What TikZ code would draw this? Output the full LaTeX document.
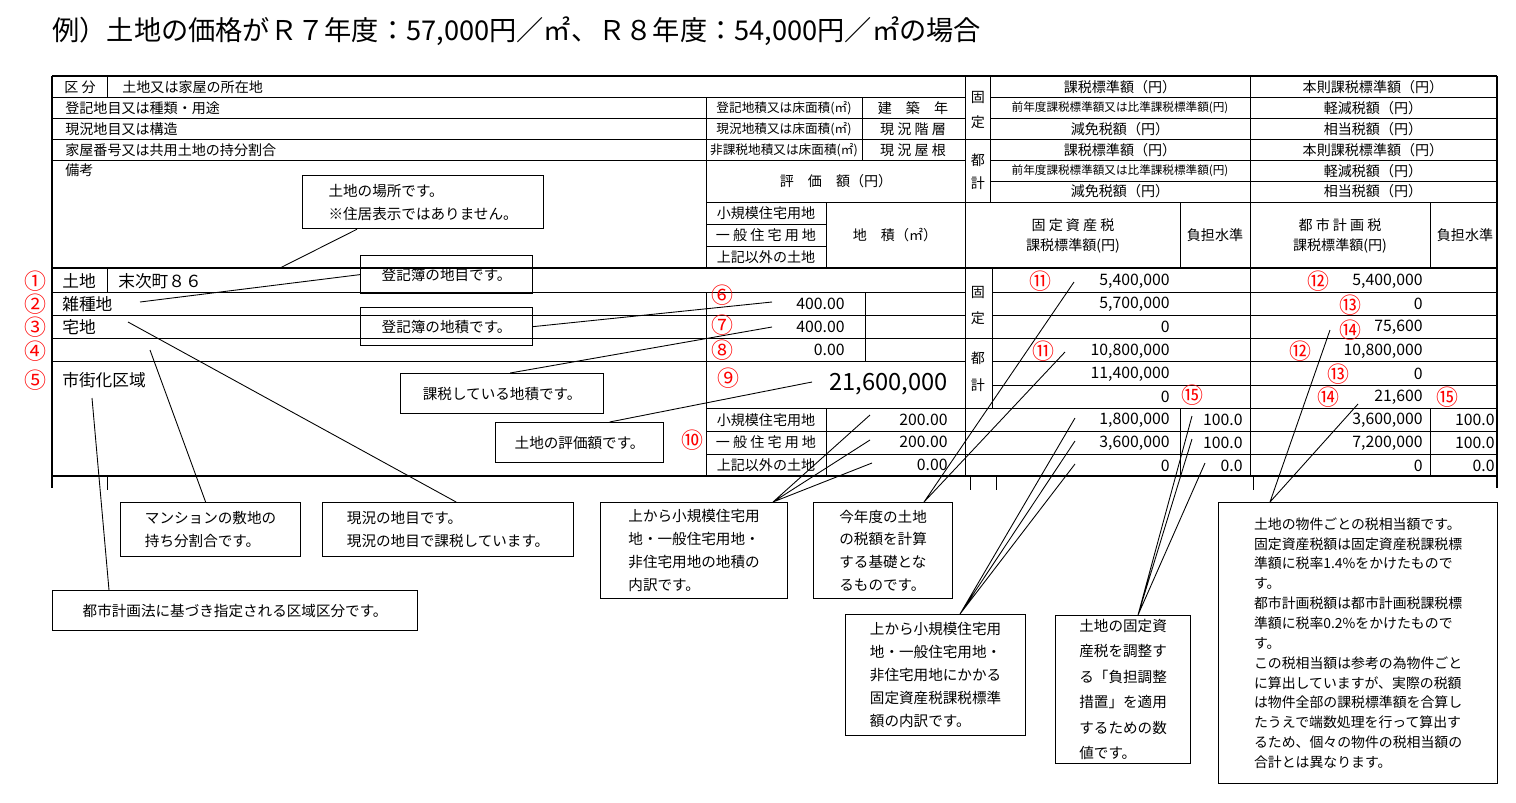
\documentclass[tikz,border=0pt]{standalone}
\usepackage{fontspec}
\setmainfont{Noto Sans CJK JP}
\usetikzlibrary{calc}
\begin{document}
\begin{tikzpicture}[x=0.02cm,y=-0.02cm,
  t/.style={inner sep=0,anchor=west,font=\fontsize{8}{9}\selectfont},
  tc/.style={t,anchor=center},
  tr/.style={t,anchor=east},
  sm/.style={tc,font=\fontsize{6.6}{7}\selectfont},
  val/.style={tr,font=\fontsize{9}{10}\selectfont},
  num/.style={tc,text=red,font=\fontsize{12.5}{13}\selectfont},
  cbox/.style={draw,line width=0.7pt,align=left,anchor=north west,inner sep=2pt,font=\fontsize{8.3}{13}\selectfont},
  thin/.style={line width=0.45pt},
  thickl/.style={line width=1.3pt},
  lead/.style={line width=0.5pt}]
\useasboundingbox (0,0) rectangle (1516,802);
% title
\node[t,anchor=west,font=\fontsize{15.5}{17}\selectfont] (title) at (52,31) {例）土地の価格がＲ７年度：57,000円／㎡、Ｒ８年度：54,000円／㎡の場合};
% ---- table lines
\draw[thickl] (52,76) -- (1497,76);
\draw[thickl] (52,268) -- (1497,268);
\draw[thickl] (52,476) -- (1497,476);
\draw[thickl] (52,76) -- (52,488);
\draw[thickl] (1497,76) -- (1497,488);
\foreach \y in {97,118,139,160} \draw[thin] (52,\y) -- (965,\y);
\foreach \y in {97,118,160,181} \draw[thin] (990,\y) -- (1497,\y);
\draw[thin] (965,139) -- (1497,139);
\draw[thin] (706,202) -- (1497,202);
\draw[thin] (107,76) -- (107,97);
\draw[thin] (706,97) -- (706,268);
\draw[thin] (862,97) -- (862,160);
\draw[thin] (965,76) -- (965,476);
\draw[thin] (990,76) -- (990,202);
\draw[thin] (1250,76) -- (1250,476);
\draw[thin] (1180,202) -- (1180,268) (1430,202) -- (1430,268);
\draw[thin] (826,202) -- (826,268) (706,224) -- (826,224) (706,246) -- (826,246);
% data region
\draw[thin] (107,268) -- (107,292);
\foreach \y in {292,315,338,361} \draw[thin] (52,\y) -- (965,\y);
\foreach \y in {292,315,361,385} \draw[thin] (992,\y) -- (1497,\y);
\draw[thin] (965,338) -- (1497,338);
\draw[thin] (706,408) -- (1497,408);
\foreach \y in {431,454} \draw[thin] (706,\y) -- (1497,\y);
\draw[thin] (706,292) -- (706,476) (865,292) -- (865,361) (826,408) -- (826,476);
\draw[thin] (992,268) -- (992,408);
\draw[thin] (1180,408) -- (1180,476) (1430,408) -- (1430,476);
\foreach \x in {107,970,996,1253} \draw[thin] (\x,476) -- (\x,490);
% ---- header texts
\node[tc] (h1) at (80,87) {区 分};
\node[t] (h2) at (122,87) {土地又は家屋の所在地};
\node[t] (h3) at (65,108) {登記地目又は種類・用途};
\node[t] (h4) at (65,129) {現況地目又は構造};
\node[t] (h5) at (65,150) {家屋番号又は共用土地の持分割合};
\node[t] (h6) at (65,170) {備考};
\node[sm,font=\fontsize{7.2}{8}\selectfont] (h7) at (784,108) {登記地積又は床面積(㎡)};
\node[sm,font=\fontsize{7.2}{8}\selectfont] (h8) at (784,129) {現況地積又は床面積(㎡)};
\node[sm,font=\fontsize{7.2}{8}\selectfont] (h9) at (784,150) {非課税地積又は床面積(㎡)};
\node[tc] (h10) at (913,108) {建\quad 築\quad 年};
\node[tc] (h11) at (913,129) {現 況 階 層};
\node[tc] (h12) at (913,150) {現 況 屋 根};
\node[tc] (h13) at (836,181) {評\quad 価\quad 額（円）};
\node[tc] (h14) at (766,213) {小規模住宅用地};
\node[tc] (h15) at (766,235) {一 般 住 宅 用 地};
\node[tc] (h16) at (766,257) {上記以外の土地};
\node[tc] (h17) at (895,235) {地\quad 積（㎡）};
\node[tc] (k1) at (978,97) {固};
\node[tc] (k2) at (978,122) {定};
\node[tc] (k3) at (978,160) {都};
\node[tc] (k4) at (978,183) {計};
\foreach \y/\n in {87/a,150/b} {
  \node[tc] (m1\n) at (1120,\y) {課税標準額（円）};
  \node[tc] (r1\n) at (1373,\y) {本則課税標準額（円）};}
\foreach \y/\n in {108/a,171/b} {
  \node[sm] (m2\n) at (1120,\y) {前年度課税標準額又は比準課税標準額(円)};
  \node[tc] (r2\n) at (1373,\y) {軽減税額（円）};}
\foreach \y/\n in {129/a,191/b} {
  \node[tc] (m3\n) at (1120,\y) {減免税額（円）};
  \node[tc] (r3\n) at (1373,\y) {相当税額（円）};}
\node[tc] (h18) at (1073,225) {固 定 資 産 税};
\node[tc] (h19) at (1073,246) {課税標準額(円)};
\node[tc] (h20) at (1215,235) {負担水準};
\node[tc] (h21) at (1340,225) {都 市 計 画 税};
\node[tc] (h22) at (1340,246) {課税標準額(円)};
\node[tc] (h23) at (1465,235) {負担水準};
% ---- data
\node[t,font=\fontsize{9.5}{10}\selectfont] (d1) at (62,281) {土地};
\node[t,font=\fontsize{9.5}{10}\selectfont] (d2) at (118,281) {末次町８６};
\node[t,font=\fontsize{9.5}{10}\selectfont] (d3) at (62,304) {雑種地};
\node[t,font=\fontsize{9.5}{10}\selectfont] (d4) at (62,327) {宅地};
\node[t,font=\fontsize{9.5}{10}\selectfont] (d5) at (62,380) {市街化区域};
\node[tc] (k5) at (978,292) {固};
\node[tc] (k6) at (978,318) {定};
\node[tc] (k7) at (978,358) {都};
\node[tc] (k8) at (978,385) {計};
\node[val] (v6) at (845,304) {400.00};
\node[val] (v7) at (845,327) {400.00};
\node[val] (v8) at (845,350) {0.00};
\node[val,font=\fontsize{13.5}{14}\selectfont] (v9) at (948,384) {21,600,000};
\node[tc] (s1) at (766,420) {小規模住宅用地};
\node[tc] (s2) at (766,442) {一 般 住 宅 用 地};
\node[tc] (s3) at (766,465) {上記以外の土地};
\node[val] (va) at (948,420) {200.00};
\node[val] (vb) at (948,442) {200.00};
\node[val] (vc) at (948,465) {0.00};
\foreach \y/\v [count=\i] in {281/{5,400,000},304/{5,700,000},327/0,351/{10,800,000},374/{11,400,000},397/0,420/{1,800,000},443/{3,600,000},466/0}
  \node[val] (f\i) at (1170,\y) {\v};
\foreach \y/\v [count=\i] in {281/{5,400,000},304/0,327/{75,600},351/{10,800,000},374/0,397/{21,600},420/{3,600,000},443/{7,200,000},466/0}
  \node[val] (c\i) at (1423,\y) {\v};
\node[val] (p1) at (1243,420) {100.0};
\node[val] (p2) at (1243,443) {100.0};
\node[val] (p3) at (1243,466) {0.0};
\node[val] (q1) at (1495,420) {100.0};
\node[val] (q2) at (1495,443) {100.0};
\node[val] (q3) at (1495,466) {0.0};
% ---- red numbers
\node[num] (n1) at (35,281) {①};
\node[num] (n2) at (35,304) {②};
\node[num] (n3) at (35,327) {③};
\node[num] (n4) at (35,351) {④};
\node[num] (n5) at (35,380) {⑤};
\node[num] (n6) at (722,295) {⑥};
\node[num] (n7) at (722,325) {⑦};
\node[num] (n8) at (722,350) {⑧};
\node[num] (n9) at (728,378) {⑨};
\node[num] (n10) at (692,440) {⑩};
\node[num] (n11a) at (1040,281) {⑪};
\node[num] (n11b) at (1043,351) {⑪};
\node[num] (n15a) at (1192,395) {⑮};
\node[num] (n12a) at (1318,281) {⑫};
\node[num] (n13a) at (1350,305) {⑬};
\node[num] (n14a) at (1350,330) {⑭};
\node[num] (n12b) at (1300,351) {⑫};
\node[num] (n13b) at (1338,374) {⑬};
\node[num] (n14b) at (1328,397) {⑭};
\node[num] (n15b) at (1447,397) {⑮};
% ---- callout boxes
\node[cbox,minimum width={241*0.02cm},minimum height={53*0.02cm}] (b1) at (302,175) {土地の場所です。\\※住居表示ではありません。};
\node[cbox,minimum width={172*0.02cm},minimum height={38*0.02cm},align=center] (b2) at (360,255) {登記簿の地目です。};
\node[cbox,minimum width={172*0.02cm},minimum height={38*0.02cm},align=center] (b3) at (360,307) {登記簿の地積です。};
\node[cbox,minimum width={203*0.02cm},minimum height={40*0.02cm},align=center] (b4) at (400,373) {課税している地積です。};
\node[cbox,minimum width={168*0.02cm},minimum height={40*0.02cm},align=center] (b5) at (495,422) {土地の評価額です。};
\node[cbox,minimum width={180*0.02cm},minimum height={54*0.02cm}] (b6) at (120,502) {マンションの敷地の\\持ち分割合です。};
\node[cbox,minimum width={251*0.02cm},minimum height={54*0.02cm}] (b7) at (322,502) {現況の地目です。\\現況の地目で課税しています。};
\node[cbox,minimum width={365*0.02cm},minimum height={40*0.02cm},align=center] (b8) at (52,590) {都市計画法に基づき指定される区域区分です。};
\node[cbox,minimum width={187*0.02cm},minimum height={96*0.02cm}] (b9) at (600,502) {上から小規模住宅用\\地・一般住宅用地・\\非住宅用地の地積の\\内訳です。};
\node[cbox,minimum width={139*0.02cm},minimum height={96*0.02cm}] (b10) at (813,502) {今年度の土地\\の税額を計算\\する基礎とな\\るものです。};
\node[cbox,minimum width={180*0.02cm},minimum height={121*0.02cm}] (b11) at (845,614) {上から小規模住宅用\\地・一般住宅用地・\\非住宅用地にかかる\\固定資産税課税標準\\額の内訳です。};
\node[cbox,minimum width={135*0.02cm},minimum height={143*0.02cm},font=\fontsize{8.3}{14.5}\selectfont] (b12) at (1055,615) {土地の固定資\\産税を調整す\\る「負担調整\\措置」を適用\\するための数\\値です。};
\node[cbox,minimum width={279*0.02cm},minimum height={281*0.02cm},font=\fontsize{7.9}{11.3}\selectfont] (b13) at (1218,502) {土地の物件ごとの税相当額です。\\固定資産税額は固定資産税課税標\\準額に税率1.4\%をかけたもので\\す。\\都市計画税額は都市計画税課税標\\準額に税率0.2\%をかけたもので\\す。\\この税相当額は参考の為物件ごと\\に算出していますが、実際の税額\\は物件全部の課税標準額を合算し\\たうえで端数処理を行って算出す\\るため、個々の物件の税相当額の\\合計とは異なります。};
% ---- leader lines
\coordinate (e1) at (280,268);
\draw[lead] ($(b1.south west)+(55,0)$) -- (e1);
\coordinate (e2) at (140,302);
\draw[lead] (b2.west) -- (e2);
\coordinate (e3) at (772,302);
\draw[lead] (b3.east) -- (e3);
\coordinate (e4) at (772,327);
\draw[lead] ($(b4.north)+(8,0)$) -- (e4);
\coordinate (e5) at (812,382);
\draw[lead] ($(b5.north)+(30,0)$) -- (e5);
\coordinate (e6) at (150,350);
\draw[lead] ($(b6.north)+(-5,0)$) -- (e6);
\coordinate (e7) at (128,322);
\draw[lead] ($(b7.north)+(8,0)$) -- (e7);
\coordinate (e8) at (92,398);
\draw[lead] ($(b8.north west)+(57,0)$) -- (e8);
\coordinate (g9) at (773,502);
\coordinate (e9a) at (870,415);\coordinate (e9b) at (870,440);\coordinate (e9c) at (872,463);
\draw[lead] (g9) -- (e9a) (g9) -- (e9b) (g9) -- (e9c);
\coordinate (g10) at (924,502);
\coordinate (e10a) at (1074,282);\coordinate (e10b) at (1065,352);
\draw[lead] (g10) -- (e10a) (g10) -- (e10b);
\coordinate (g11) at (960,614);
\coordinate (e11a) at (1075,418);\coordinate (e11b) at (1075,441);\coordinate (e11c) at (1075,464);
\draw[lead] (g11) -- (e11a) (g11) -- (e11b) (g11) -- (e11c);
\coordinate (g12) at (1138,615);
\coordinate (e12a) at (1192,416);\coordinate (e12b) at (1192,439);\coordinate (e12c) at (1205,463);
\draw[lead] (g12) -- (e12a) (g12) -- (e12b) (g12) -- (e12c);
\coordinate (g13) at (1270,502);
\coordinate (e13a) at (1330,330);\coordinate (e13b) at (1358,404);
\draw[lead] (g13) -- (e13a) (g13) -- (e13b);
\end{tikzpicture}
\end{document}
